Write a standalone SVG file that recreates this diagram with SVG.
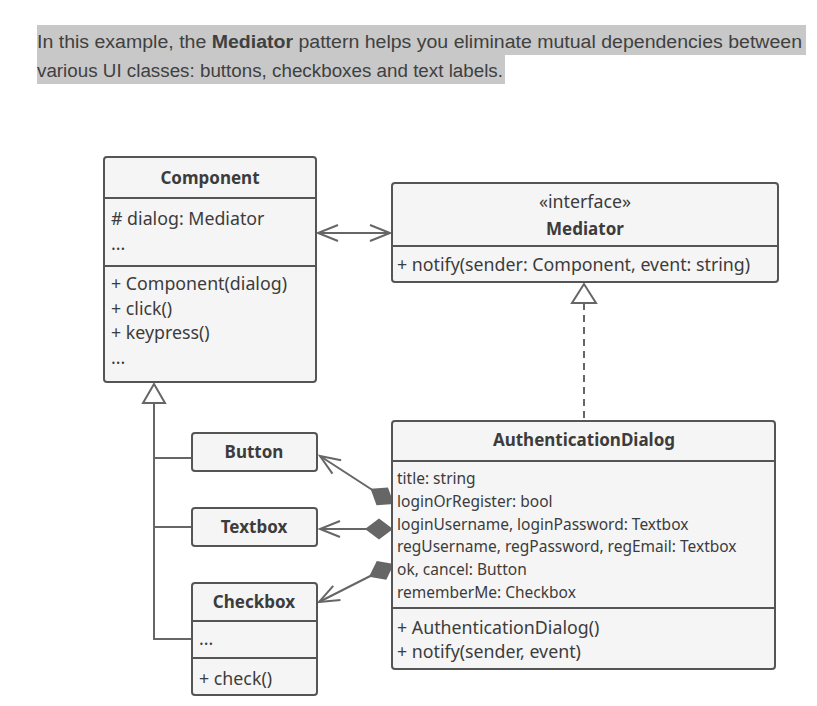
<svg xmlns="http://www.w3.org/2000/svg" width="817" height="706" viewBox="0 0 817 706">
<style>
.box{fill:#f5f5f5;stroke:#555;stroke-width:2}
.sep{stroke:#555;stroke-width:2}
.t{font-family:"Noto Sans","Open Sans",sans-serif;font-size:17.8px;fill:#3c3c3c}
.s{font-family:"Noto Sans","Open Sans",sans-serif;font-size:15.5px;fill:#3c3c3c}
.b{font-family:"Noto Sans","Open Sans",sans-serif;font-size:17px;font-weight:bold;fill:#3c3c3c;text-anchor:middle}
.p{font-family:"Liberation Sans",Arial,sans-serif;font-size:18px;fill:#404040}
.c{stroke:#666;stroke-width:2;fill:none}
</style>
<defs>
<marker id="open" markerUnits="userSpaceOnUse" markerWidth="30" markerHeight="30" refX="0" refY="0" orient="auto-start-reverse" overflow="visible">
<path d="M-20,-8 L0,0 L-20,8" fill="none" stroke="#666" stroke-width="2"/>
</marker>
<marker id="diamond" markerUnits="userSpaceOnUse" markerWidth="40" markerHeight="30" refX="0" refY="0" orient="auto" overflow="visible">
<path d="M0,0 L-14,-10.5 L-28,0 L-14,10.5 Z" fill="#666"/>
</marker>
</defs>
<g id="intro">
<rect x="37" y="25" width="769" height="30" fill="#c8c8c8"/>
<rect x="37" y="55" width="468" height="29" fill="#c8c8c8"/>
<text class="p" x="37" y="48" textLength="765" lengthAdjust="spacingAndGlyphs">In this example, the <tspan font-weight="bold">Mediator</tspan> pattern helps you eliminate mutual dependencies between</text>
<text class="p" x="37" y="77" textLength="466" lengthAdjust="spacingAndGlyphs">various UI classes: buttons, checkboxes and text labels.</text>
</g>
<g id="connectors">
<line class="c" x1="318" y1="233" x2="390" y2="233" marker-start="url(#open)" marker-end="url(#open)"/>
<line class="c" x1="584" y1="303" x2="584" y2="421" stroke-dasharray="7,5"/>
<polygon points="584,284 572,303 596,303" fill="#fff" stroke="#666" stroke-width="2"/>
<polyline class="c" points="154,403 154,639 192,639"/>
<line class="c" x1="154" y1="458" x2="192" y2="458"/>
<line class="c" x1="154" y1="527" x2="192" y2="527"/>
<polygon points="154,384 143,403 165,403" fill="#fff" stroke="#666" stroke-width="2"/>
<line class="c" x1="320" y1="456" x2="394" y2="504" marker-start="url(#open)" marker-end="url(#diamond)"/>
<line class="c" x1="320" y1="529" x2="393" y2="529" marker-start="url(#open)" marker-end="url(#diamond)"/>
<line class="c" x1="319" y1="602" x2="394" y2="564" marker-start="url(#open)" marker-end="url(#diamond)"/>
</g>
<g id="component">
<rect class="box" x="104" y="157" width="212" height="225" rx="3"/>
<line class="sep" x1="104" y1="198" x2="316" y2="198"/>
<line class="sep" x1="104" y1="266" x2="316" y2="266"/>
<text class="b" x="210" y="184">Component</text>
<text class="t" x="111" y="225"># dialog: Mediator</text>
<text class="t" x="111" y="250">...</text>
<text class="t" x="111" y="290">+ Component(dialog)</text>
<text class="t" x="111" y="315">+ click()</text>
<text class="t" x="111" y="339">+ keypress()</text>
<text class="t" x="111" y="364">...</text>
</g>
<g id="mediator">
<rect class="box" x="392" y="183" width="386" height="99" rx="3"/>
<line class="sep" x1="392" y1="246" x2="778" y2="246"/>
<text class="t" x="585" y="208" text-anchor="middle">«interface»</text>
<text class="b" x="585" y="235">Mediator</text>
<text class="t" x="397" y="271">+ notify(sender: Component, event: string)</text>
</g>
<g id="authdialog">
<rect class="box" x="392" y="421" width="383" height="248" rx="3"/>
<line class="sep" x1="392" y1="461" x2="775" y2="461"/>
<line class="sep" x1="392" y1="608" x2="775" y2="608"/>
<text class="b" x="584" y="446">AuthenticationDialog</text>
<text class="s" x="397" y="484">title: string</text>
<text class="s" x="397" y="507">loginOrRegister: bool</text>
<text class="s" x="397" y="530">loginUsername, loginPassword: Textbox</text>
<text class="s" x="397" y="552">regUsername, regPassword, regEmail: Textbox</text>
<text class="s" x="397" y="575">ok, cancel: Button</text>
<text class="s" x="397" y="598">rememberMe: Checkbox</text>
<text class="t" x="397" y="634">+ AuthenticationDialog()</text>
<text class="t" x="397" y="658">+ notify(sender, event)</text>
</g>
<g id="button">
<rect class="box" x="192" y="433" width="125" height="38" rx="3"/>
<text class="b" x="254" y="458">Button</text>
</g>
<g id="textbox">
<rect class="box" x="192" y="508" width="125" height="38" rx="3"/>
<text class="b" x="254" y="533">Textbox</text>
</g>
<g id="checkbox">
<rect class="box" x="192" y="583" width="125" height="112" rx="3"/>
<line class="sep" x1="192" y1="621" x2="317" y2="621"/>
<line class="sep" x1="192" y1="658" x2="317" y2="658"/>
<text class="b" x="254" y="608">Checkbox</text>
<text class="t" x="199" y="645">...</text>
<text class="t" x="199" y="685">+ check()</text>
</g>
</svg>
